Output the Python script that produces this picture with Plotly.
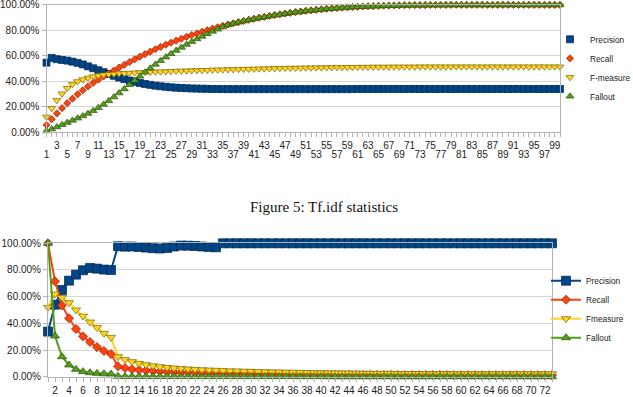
import plotly.graph_objects as go

# ---------------- data: top chart (Tf.idf statistics) ----------------
cats_top = list(range(1, 101))
precision_top = [54.5, 58.2, 57.2, 56.6, 56.1, 55.3, 54.3, 53.1, 51.6, 50.1,
                 48.6, 47.1, 45.6, 44.2, 42.8, 41.6, 40.5, 39.5, 38.6, 37.8,
                 37.1, 36.5, 36.0, 35.6, 35.2, 34.9, 34.7, 34.5, 34.3, 34.2,
                 34.1, 34.0, 33.9, 33.9, 33.8, 33.8, 33.8, 33.8, 33.8, 33.8,
                 33.8, 33.8, 33.8, 33.8, 33.8, 33.8, 33.8, 33.8, 33.8, 33.8,
                 33.8, 33.8, 33.8, 33.8, 33.8, 33.8, 33.8, 33.8, 33.8, 33.8,
                 33.9, 33.9, 33.9, 33.9, 33.9, 33.9, 33.9, 33.9, 33.9, 33.9,
                 33.9, 33.9, 33.9, 33.9, 33.9, 33.9, 33.9, 33.9, 33.9, 33.9,
                 33.9, 33.9, 33.9, 33.9, 33.9, 33.9, 33.9, 33.9, 33.9, 33.9,
                 33.9, 33.9, 33.9, 33.9, 33.9, 33.9, 33.9, 33.9, 33.9, 33.9]
recall_top = [5.8, 10.2, 14.8, 18.9, 22.8, 26.3, 29.7, 32.9, 35.9, 38.7,
              41.2, 43.7, 46.0, 48.3, 50.6, 52.8, 55.0, 57.1, 59.2, 61.2,
              63.1, 65.0, 66.8, 68.5, 70.1, 71.7, 73.2, 74.7, 76.1, 77.4,
              78.7, 79.9, 81.1, 82.2, 83.3, 84.3, 85.3, 86.2, 87.1, 88.0,
              88.8, 89.6, 90.3, 91.0, 91.7, 92.3, 92.9, 93.5, 94.0, 94.5,
              95.0, 95.4, 95.8, 96.2, 96.6, 96.9, 97.2, 97.5, 97.8, 98.0,
              98.2, 98.4, 98.6, 98.7, 98.9, 99.0, 99.1, 99.2, 99.3, 99.4,
              99.4, 99.5, 99.5, 99.5, 99.6, 99.6, 99.6, 99.6, 99.7, 99.7,
              99.7, 99.7, 99.7, 99.7, 99.7, 99.7, 99.7, 99.7, 99.7, 99.7,
              99.7, 99.7, 99.7, 99.7, 99.7, 99.7, 99.7, 99.7, 99.7, 99.7]
fmeasure_top = [12.0, 18.8, 25.0, 30.2, 34.5, 37.6, 39.8, 41.3, 42.6, 43.6,
                44.4, 45.0, 45.4, 45.7, 46.0, 46.2, 46.4, 46.6, 46.8, 47.0,
                47.1, 47.3, 47.4, 47.6, 47.7, 47.9, 48.0, 48.1, 48.3, 48.4,
                48.5, 48.6, 48.8, 48.9, 49.0, 49.1, 49.2, 49.3, 49.4, 49.5,
                49.6, 49.7, 49.8, 49.9, 50.0, 50.1, 50.2, 50.3, 50.3, 50.4,
                50.5, 50.5, 50.6, 50.6, 50.7, 50.7, 50.8, 50.8, 50.9, 50.9,
                51.0, 51.0, 51.0, 51.1, 51.1, 51.1, 51.1, 51.2, 51.2, 51.2,
                51.2, 51.2, 51.3, 51.3, 51.3, 51.3, 51.3, 51.3, 51.3, 51.3,
                51.3, 51.3, 51.3, 51.3, 51.3, 51.3, 51.3, 51.3, 51.3, 51.3,
                51.3, 51.3, 51.3, 51.3, 51.3, 51.3, 51.3, 51.3, 51.3, 51.3]
fallout_top = [1.0, 2.5, 4.2, 5.9, 7.6, 9.3, 11.0, 12.8, 14.7, 16.8,
               19.2, 21.8, 24.6, 27.6, 30.7, 33.9, 37.2, 40.5, 43.8, 47.0,
               50.1, 53.1, 56.0, 58.8, 61.5, 64.0, 66.4, 68.7, 70.9, 73.0,
               75.0, 77.0, 78.9, 80.6, 82.4, 84.0, 85.1, 86.1, 87.0, 87.9,
               88.7, 89.5, 90.2, 90.9, 91.6, 92.2, 92.8, 93.4, 93.9, 94.4,
               94.9, 95.3, 95.7, 96.1, 96.5, 96.8, 97.1, 97.4, 97.7, 97.9,
               98.1, 98.3, 98.5, 98.6, 98.8, 98.9, 99.0, 99.1, 99.2, 99.3,
               99.3, 99.4, 99.4, 99.4, 99.5, 99.5, 99.5, 99.5, 99.6, 99.6,
               99.6, 99.6, 99.6, 99.6, 99.6, 99.6, 99.6, 99.6, 99.6, 99.6,
               99.6, 99.6, 99.6, 99.6, 99.6, 99.6, 99.6, 99.6, 99.6, 99.6]
labels_top_upper = [c for c in cats_top if c % 4 == 3]   # 3, 7, 11 ... 99
labels_top_lower = [c for c in cats_top if c % 4 == 1]   # 1, 5, 9 ... 97

# ---------------- data: bottom chart ----------------
cats_bot = list(range(1, 74))
precision_bot = [33.8, 54.0, 65.0, 72.0, 76.5, 79.8, 81.5, 81.0, 80.3, 80.0,
                 97.8, 97.5, 97.6, 97.2, 96.8, 96.3, 96.1, 96.5, 97.6, 98.3,
                 98.2, 98.0, 97.6, 97.2, 97.0, 100, 100, 100, 100, 100,
                 100, 100, 100, 100, 100, 100, 100, 100, 100, 100,
                 100, 100, 100, 100, 100, 100, 100, 100, 100, 100,
                 100, 100, 100, 100, 100, 100, 100, 100, 100, 100,
                 100, 100, 100, 100, 100, 100, 100, 100, 100, 100,
                 100, 100, 100]
recall_bot = [100, 71.5, 53.5, 43.8, 35.8, 30.2, 26.0, 22.2, 19.3, 17.0,
              7.8, 6.5, 5.6, 5.0, 4.6, 4.2, 3.9, 3.6, 3.4, 3.2,
              3.0, 2.8, 2.7, 2.6, 2.5, 2.4, 2.3, 2.2, 2.1, 2.0,
              1.9, 1.9, 1.8, 1.8, 1.7, 1.7, 1.6, 1.6, 1.5, 1.5,
              1.5, 1.4, 1.4, 1.4, 1.4, 1.3, 1.3, 1.3, 1.3, 1.3,
              1.2, 1.2, 1.2, 1.2, 1.2, 1.2, 1.2, 1.2, 1.1, 1.1,
              1.1, 1.1, 1.1, 1.1, 1.1, 1.1, 1.1, 1.1, 1.1, 1.1,
              1.1, 1.1, 1.1]
fmeasure_bot = [52.0, 62.0, 59.3, 55.5, 50.0, 45.5, 41.0, 36.8, 32.5, 29.5,
                15.0, 12.8, 11.3, 10.0, 9.0, 8.2, 7.5, 6.9, 6.5, 6.1,
                5.8, 5.5, 5.2, 5.0, 4.8, 4.6, 4.4, 4.3, 4.1, 4.0,
                3.8, 3.7, 3.6, 3.5, 3.4, 3.3, 3.2, 3.1, 3.0, 3.0,
                2.9, 2.8, 2.8, 2.7, 2.7, 2.6, 2.6, 2.5, 2.5, 2.5,
                2.4, 2.4, 2.4, 2.4, 2.3, 2.3, 2.3, 2.3, 2.3, 2.2,
                2.2, 2.2, 2.2, 2.2, 2.2, 2.2, 2.2, 2.2, 2.2, 2.2,
                2.2, 2.2, 2.2]
fallout_bot = [100, 30.5, 15.0, 8.8, 5.5, 3.8, 3.0, 2.5, 2.2, 2.0,
               0.3, 0.2, 0.2, 0.2, 0.2, 0.2, 0.2, 0.2, 0.2, 0.2,
               0.1, 0.1, 0.1, 0.1, 0.1, 0.1, 0.1, 0.1, 0.1, 0.1,
               0.1, 0.1, 0.1, 0.1, 0.1, 0.1, 0.1, 0.1, 0.1, 0.1,
               0.0, 0.0, 0.0, 0.0, 0.0, 0.0, 0.0, 0.0, 0.0, 0.0,
               0.0, 0.0, 0.0, 0.0, 0.0, 0.0, 0.0, 0.0, 0.0, 0.0,
               0.0, 0.0, 0.0, 0.0, 0.0, 0.0, 0.0, 0.0, 0.0, 0.0,
               0.0, 0.0, 0.0]
labels_bot = [c for c in cats_bot if c % 2 == 0]          # 2, 4 ... 72

names_top = ["Precision", "Recall", "F-measure", "Fallout"]
names_bot = ["Precision", "Recall", "Fmeasure", "Fallout"]
y_ticks = [0, 20, 40, 60, 80, 100]
y_ticktext = ["0.00%", "20.00%", "40.00%", "60.00%", "80.00%", "100.00%"]
caption = "Figure 5: Tf.idf statistics"

# ---------------- styling ----------------
W, H = 633, 397
colors = ["#004586", "#ff420e", "#ffd320", "#579d1c"]
edges = ["#00264d", "#8c2400", "#7a6400", "#2c520b"]
symbols = ["square", "diamond", "triangle-down", "triangle-up"]
sizes_top = [7, 5.5, 7, 7]
sizes_bot = [9, 7, 8, 8]
# the last top series sits on an overlaying x axis that carries the
# second (staggered) row of category labels
top_xaxes = ["x", "x", "x", "x3"]
FONT = "Liberation Sans, Arial, sans-serif"
GRID = "#d4d4d4"
AXIS = "#b3b3b3"
TXT = "#222222"


def fx(p):
    return p / W


def fy(p):
    return 1 - p / H


fig = go.Figure()

for name, vals, col, ed, sym, sz, xa in zip(names_top,
                                           [precision_top, recall_top, fmeasure_top, fallout_top],
                                           colors, edges, symbols, sizes_top, top_xaxes):
    fig.add_trace(go.Scatter(
        x=cats_top, y=vals, name=name, mode="markers", xaxis=xa, yaxis="y",
        marker=dict(symbol=sym, size=sz, color=col, line=dict(color=ed, width=0.7)),
        cliponaxis=False, legend="legend"))

for name, vals, col, ed, sym, sz in zip(names_bot,
                                       [precision_bot, recall_bot, fmeasure_bot, fallout_bot],
                                       colors, edges, symbols, sizes_bot):
    fig.add_trace(go.Scatter(
        x=cats_bot, y=vals, name=name, mode="lines+markers", xaxis="x2", yaxis="y2",
        line=dict(color=col, width=2),
        marker=dict(symbol=sym, size=sz, color=col, line=dict(color=ed, width=0.7)),
        cliponaxis=False, legend="legend2"))

tickfont = dict(family=FONT, size=10, color=TXT)
yfont = dict(family=FONT, size=10, color=TXT)
legfont = dict(family=FONT, size=8.3, color=TXT)

fig.update_layout(
    width=W, height=H,
    margin=dict(l=0, r=0, t=0, b=0, autoexpand=False),
    paper_bgcolor="white", plot_bgcolor="white",
    font=dict(family=FONT, color=TXT),
    xaxis=dict(domain=[fx(46.5), fx(560)], anchor="y", range=[1, 100],
               tickmode="array", tickvals=labels_top_upper,
               ticktext=[str(v) for v in labels_top_upper],
               ticks="outside", ticklen=4, tickcolor=AXIS, tickfont=tickfont,
               minor=dict(tickmode="array", tickvals=cats_top, ticks="outside",
                          ticklen=4, tickcolor=AXIS, showgrid=False),
               showgrid=False, zeroline=False, showline=True, linecolor=AXIS,
               mirror=True, ticklabelstandoff=0, automargin=False),
    xaxis3=dict(overlaying="x", anchor="y", range=[1, 100], side="bottom",
                tickmode="array", tickvals=labels_top_lower,
                ticktext=[str(v) for v in labels_top_lower],
                ticks="", tickfont=tickfont, showgrid=False, zeroline=False,
                showline=False, ticklabelstandoff=15, automargin=False),
    yaxis=dict(domain=[fy(132.3), fy(4.5)], anchor="x", range=[0, 100],
               tickmode="array", tickvals=y_ticks, ticktext=y_ticktext,
               ticks="outside", ticklen=4, tickcolor=AXIS, tickfont=yfont,
               showgrid=True, gridcolor=GRID, zeroline=False,
               showline=True, linecolor=AXIS, mirror=True, automargin=False,
               ticklabeloverflow="allow"),
    xaxis2=dict(domain=[fx(48), fx(552)], anchor="y2", range=[1, 73],
                tickmode="array", tickvals=labels_bot,
                ticktext=[str(v) for v in labels_bot],
                ticks="outside", ticklen=4, tickcolor=AXIS, tickfont=tickfont,
                minor=dict(tickmode="array", tickvals=cats_bot, ticks="outside",
                           ticklen=4, tickcolor=AXIS, showgrid=False),
                showgrid=False, zeroline=False, showline=True, linecolor=AXIS,
                mirror=True, automargin=False),
    yaxis2=dict(domain=[fy(376.7), fy(243.3)], anchor="x2", range=[0, 100],
                tickmode="array", tickvals=y_ticks, ticktext=y_ticktext,
                ticks="outside", ticklen=4, tickcolor=AXIS, tickfont=yfont,
                showgrid=True, gridcolor=GRID, zeroline=False,
                showline=True, linecolor=AXIS, mirror=True, automargin=False),
    legend=dict(x=fx(550), y=fy(67.8), xanchor="left", yanchor="middle",
                font=legfont, bgcolor="rgba(0,0,0,0)", borderwidth=0, tracegroupgap=0),
    legend2=dict(x=fx(546), y=fy(309.2), xanchor="left", yanchor="middle",
                 font=legfont, bgcolor="rgba(0,0,0,0)", borderwidth=0, tracegroupgap=0),
    annotations=[dict(text=caption, x=fx(324), y=fy(206.7), xref="paper", yref="paper",
                      xanchor="center", yanchor="middle", showarrow=False,
                      font=dict(family="Liberation Serif, Times New Roman, serif",
                                size=15, color="#111111"))],
)

fig.write_html("out.html")
